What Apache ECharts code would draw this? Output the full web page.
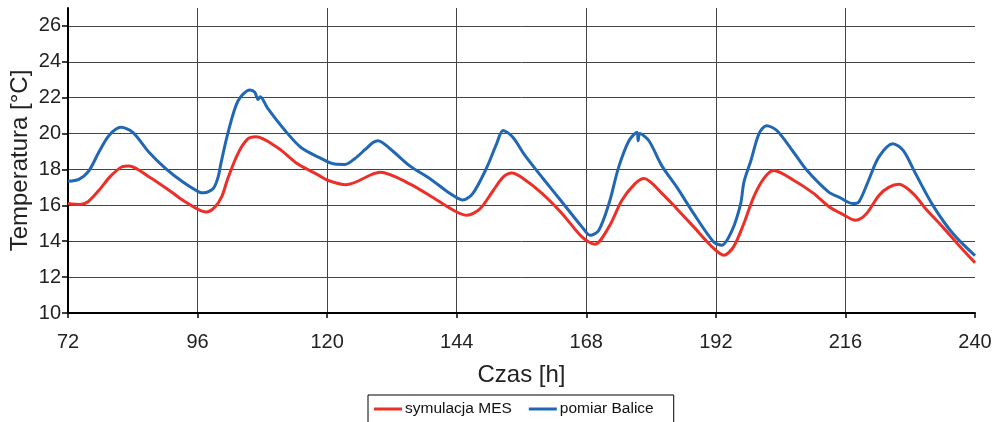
<!DOCTYPE html>
<html><head><meta charset="utf-8">
<script src="https://cdn.jsdelivr.net/npm/echarts@6/dist/echarts.min.js"></script>
<style>html,body{margin:0;padding:0;background:#fff}#c{width:994px;height:422px}</style>
</head><body><div id="c"></div>
<script>
const xTicks = [72, 96, 120, 144, 168, 192, 216, 240];
const yTicks = [10, 12, 14, 16, 18, 20, 22, 24, 26];

const simHours = [72.0,74.2,75.7,77.9,79.8,82.0,83.3,87.2,90.9,93.7,97.6,99.2,100.5,101.6,103.5,105.3,106.8,110.9,114.6,118.3,120.1,123.5,128.5,129.8,135.3,140.3,144.0,145.9,148.3,150.7,152.6,154.2,156.3,159.8,163.5,167.2,169.6,172.2,174.6,177.0,178.7,182.0,184.8,187.9,191.6,193.5,195.3,197.2,199.0,200.9,202.7,206.4,210.1,212.9,215.5,217.9,219.8,222.2,224.0,225.9,228.5,230.9,234.0,237.0,240.0];
const simTemp  = [16.1,16.05,16.2,16.9,17.6,18.15,18.2,17.55,16.8,16.2,15.63,15.9,16.5,17.5,18.9,19.7,19.82,19.2,18.3,17.7,17.4,17.15,17.75,17.85,17.2,16.3,15.63,15.45,15.8,16.8,17.57,17.8,17.5,16.67,15.55,14.24,13.83,14.8,16.28,17.2,17.5,16.67,15.8,14.8,13.6,13.22,13.7,15.0,16.46,17.5,17.94,17.4,16.67,15.94,15.5,15.17,15.5,16.55,17.0,17.17,16.67,15.8,14.8,13.78,12.8];

const obsHours = [72.0,74.0,75.9,77.7,79.6,81.8,84.0,87.0,90.1,93.3,96.3,97.2,98.9,99.8,100.3,101.6,103.5,105.7,106.6,107.2,107.6,109.0,112.2,115.1,118.3,121.4,123.3,125.1,127.0,128.5,129.4,131.6,135.3,139.0,142.7,145.1,147.0,149.6,151.4,152.6,154.4,156.6,159.8,163.5,167.2,168.7,170.3,172.2,174.0,175.9,177.4,177.6,177.9,179.6,182.0,184.8,187.9,191.6,193.1,195.0,196.6,197.2,198.5,200.0,201.4,203.3,206.4,208.9,212.9,214.8,217.4,218.5,220.3,222.2,224.8,226.7,229.0,232.2,235.9,240.0];
const obsTemp  = [17.35,17.45,17.94,18.96,19.9,20.35,20.07,18.96,18.05,17.3,16.74,16.7,16.94,17.57,18.3,20.0,21.83,22.43,22.3,21.9,22.05,21.4,20.17,19.24,18.7,18.3,18.28,18.6,19.1,19.5,19.6,19.17,18.2,17.5,16.67,16.3,16.67,18.13,19.44,20.17,19.8,18.8,17.57,16.19,14.8,14.33,14.6,16.1,18.13,19.6,20.07,19.6,20.0,19.6,18.2,17.0,15.54,13.96,13.78,14.6,16.1,17.3,18.5,20.0,20.44,20.17,18.96,17.94,16.74,16.46,16.1,16.19,17.4,18.7,19.43,19.06,17.76,16.0,14.43,13.2];

const seriesNames = ['symulacja MES', 'pomiar Balice'];

function pairs(xs, ys) { return xs.map((x, i) => [x, ys[i]]); }

const font = 'Liberation Sans, Arial, sans-serif';
const chart = echarts.init(document.getElementById('c'), null, {renderer: 'canvas'});
chart.setOption({
  animation: false,
  backgroundColor: '#fff',
  grid: {left: 68, right: 19, top: 8, bottom: 109, containLabel: false, outerBoundsMode: 'none'},
  legend: {
    data: seriesNames,
    left: 368, top: 395,
    padding: [6, 20, 20, 6],
    itemGap: 17,
    itemWidth: 28, itemHeight: 3,
    icon: 'rect',
    backgroundColor: '#fff',
    borderColor: '#000', borderWidth: 1, borderRadius: 0,
    textStyle: {fontFamily: font, fontSize: 15.5, color: '#111', padding: [0, 0, 0, -2]}
  },
  xAxis: {
    type: 'value', min: 72, max: 240, interval: 24,
    name: 'Czas [h]', nameLocation: 'middle', nameGap: 50, nameMoveOverlap: false,
    nameTextStyle: {fontFamily: font, fontSize: 24, color: '#222'},
    axisLine: {show: true, onZero: false, lineStyle: {color: '#000', width: 2}},
    axisTick: {show: true, length: 5, lineStyle: {color: '#000', width: 1.5}},
    axisLabel: {fontFamily: font, fontSize: 20, color: '#222', margin: 19},
    splitLine: {show: true, lineStyle: {color: ['#444','#444','#444','#444','#444','#444','#444','transparent'], width: 1}}
  },
  yAxis: {
    type: 'value', min: 10, max: 27, interval: 2,
    name: 'Temperatura [°C]', nameLocation: 'middle', nameGap: 36, nameRotate: 90, nameMoveOverlap: false,
    nameTextStyle: {fontFamily: font, fontSize: 24, color: '#222'},
    axisLine: {show: true, onZero: false, lineStyle: {color: '#000', width: 2}},
    axisTick: {show: true, length: 6, customValues: yTicks, lineStyle: {color: '#000', width: 1.5}},
    axisLabel: {fontFamily: font, fontSize: 20, color: '#222', margin: 7, customValues: yTicks},
    splitLine: {show: true, lineStyle: {color: '#444', width: 1}}
  },
  series: [
    {name: seriesNames[0], type: 'line', data: pairs(simHours, simTemp), showSymbol: false, symbol: 'none', smooth: 0.3,
     lineStyle: {color: '#ec2f27', width: 3}, itemStyle: {color: '#ec2f27'}, z: 3},
    {name: seriesNames[1], type: 'line', data: pairs(obsHours, obsTemp), showSymbol: false, symbol: 'none', smooth: 0.3,
     lineStyle: {color: '#2167b3', width: 3}, itemStyle: {color: '#2167b3'}, z: 4}
  ]
});
</script></body></html>
